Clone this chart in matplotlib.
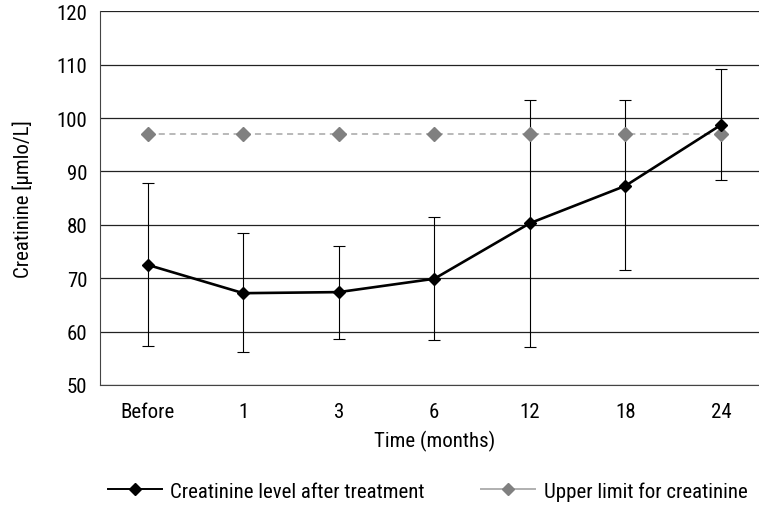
import matplotlib.pyplot as plt
from matplotlib import font_manager
from matplotlib.lines import Line2D

categories = ['Before', '1', '3', '6', '12', '18', '24']
creatinine = [72.5, 67.2, 67.4, 69.9, 80.3, 87.3, 98.7]
err_upper = [87.8, 78.4, 76.1, 81.5, 103.3, 103.3, 109.1]
err_lower = [57.3, 56.2, 58.7, 58.4, 57.2, 71.5, 88.4]
upper_limit = [97, 97, 97, 97, 97, 97, 97]

# condensed face if one is installed, else plain Liberation Sans
names = {f.name for f in font_manager.fontManager.ttflist}
font_size = 13.2
family = 'Liberation Sans'
for cand, size in [('Liberation Sans Narrow', 15.5), ('Roboto Condensed', 15)]:
    if cand in names:
        family, font_size = cand, size
        break
plt.rcParams['font.family'] = [family, 'DejaVu Sans']
plt.rcParams['font.size'] = font_size

fig = plt.figure(figsize=(7.59, 5.06), dpi=100)
ax = fig.add_axes([100 / 759, 120 / 506, 668.6 / 759, 373.7 / 506])

x = list(range(len(categories)))
yerr = [[c - lo for c, lo in zip(creatinine, err_lower)],
        [hi - c for c, hi in zip(creatinine, err_upper)]]

ax.errorbar(x, creatinine, yerr=yerr, fmt='none', ecolor='black',
            elinewidth=0.8, capsize=4, capthick=0.8, zorder=2)
ax.plot(x, upper_limit, color='#a6a6a6', linestyle=(0, (4, 3)), linewidth=1.1,
        marker='D', markersize=7, markerfacecolor='#808080',
        markeredgecolor='#808080', zorder=3)
ax.plot(x, creatinine, color='black', linewidth=1.9, marker='D', markersize=6.5,
        zorder=4)

ax.set_xlim(-0.5, len(categories) - 0.5)
ax.set_ylim(50, 120)
ax.set_yticks(range(50, 121, 10))
ax.set_xticks(x)
ax.set_xticklabels(categories)
ax.tick_params(length=0, pad=12)
ax.tick_params(axis='y', pad=9)
ax.yaxis.grid(True, color='#222222', linewidth=0.9)
ax.set_axisbelow(True)

for side in ['top', 'right']:
    ax.spines[side].set_visible(False)
ax.spines['left'].set_color('#444444')
ax.spines['bottom'].set_color('#444444')

ax.set_xlabel('Time (months)', labelpad=7)
ax.set_ylabel('Creatinine [µmlo/L]', labelpad=17)

handles = [
    Line2D([], [], color='black', linewidth=1.4, marker='D', markersize=6),
    Line2D([], [], color='#b0b0b0', linewidth=1.4, marker='D', markersize=6.5,
           markerfacecolor='#808080', markeredgecolor='#808080'),
]
labels = ['Creatinine level after treatment', 'Upper limit for creatinine']
fig.legend(handles, labels, loc='center left',
           bbox_to_anchor=(108 / 759, 1 - 492 / 506), borderpad=0, borderaxespad=0,
           ncol=2, frameon=False, handlelength=2.6, handletextpad=0.4,
           columnspacing=2.7)

plt.savefig('out.png', dpi=100)
